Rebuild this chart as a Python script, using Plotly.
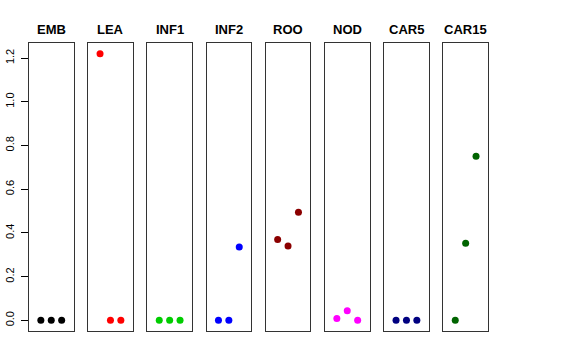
import plotly.graph_objects as go

tissues = ["EMB", "LEA", "INF1", "INF2", "ROO", "NOD", "CAR5", "CAR15"]
colors = ["#000000", "#FF0000", "#00CD00", "#0000FF", "#8B0000", "#FF00FF", "#000080", "#006400"]
replicates = [1, 2, 3]
values = [
    [0.0, 0.0, 0.0],
    [1.22, 0.0, 0.0],
    [0.0, 0.0, 0.0],
    [0.0, 0.0, 0.336],
    [0.370, 0.340, 0.495],
    [0.008, 0.044, 0.0],
    [0.0, 0.0, 0.0],
    [0.0, 0.353, 0.751],
]
y_ticks = [0.0, 0.2, 0.4, 0.6, 0.8, 1.0, 1.2]
y_tick_labels = ["0.0", "0.2", "0.4", "0.6", "0.8", "1.0", "1.2"]

W, H = 576, 360
fig = go.Figure()
ymin, ymax = -0.0488, 1.2688
x_left0, step, pw = 29.0, 59.2, 44.5
y_top, y_bot = 43.0, 331.0

for i, (t, c, v) in enumerate(zip(tissues, colors, values)):
    n = "" if i == 0 else str(i + 1)
    x0 = x_left0 + step * i
    fig.add_trace(go.Scatter(
        x=replicates, y=v, mode="markers",
        marker=dict(color=c, size=7, line=dict(width=0)),
        xaxis="x" + n, yaxis="y" + n, showlegend=False, hoverinfo="skip"))
    fig.layout["xaxis" + n] = dict(
        domain=[x0 / W, (x0 + pw) / W], range=[-0.14, 4.14],
        showgrid=False, zeroline=False, showticklabels=False, ticks="",
        showline=True, mirror=True, linecolor="#333333", linewidth=1,
        anchor="y" + n, fixedrange=True, automargin=False)
    ya = dict(
        domain=[(H - y_bot) / H, (H - y_top) / H], range=[ymin, ymax],
        showgrid=False, zeroline=False,
        showline=True, mirror=True, linecolor="#333333", linewidth=1,
        anchor="x" + n, fixedrange=True, automargin=False)
    if i == 0:
        ya.update(ticks="outside", ticklen=7, tickcolor="#000000", tickwidth=1,
                  tickvals=y_ticks, ticktext=y_tick_labels, tickangle=-90,
                  ticklabelstandoff=3,
                  tickfont=dict(family="Liberation Sans, Arial, sans-serif", size=11, color="#000000"),
                  showticklabels=True)
    else:
        ya.update(ticks="", showticklabels=False)
    fig.layout["yaxis" + n] = ya
    fig.add_annotation(
        x=(x0 + pw / 2) / W, y=(H - 29.5) / H, xref="paper", yref="paper",
        text="<b>" + t + "</b>", showarrow=False, xanchor="center", yanchor="middle",
        font=dict(family="Liberation Sans, Arial, sans-serif", size=13, color="#000000"))

fig.update_layout(
    width=W, height=H, margin=dict(l=0, r=0, t=0, b=0),
    paper_bgcolor="white", plot_bgcolor="white")
fig.write_html("out.html", config={"displayModeBar": False},
               post_script="document.body.style.margin='0px';")
